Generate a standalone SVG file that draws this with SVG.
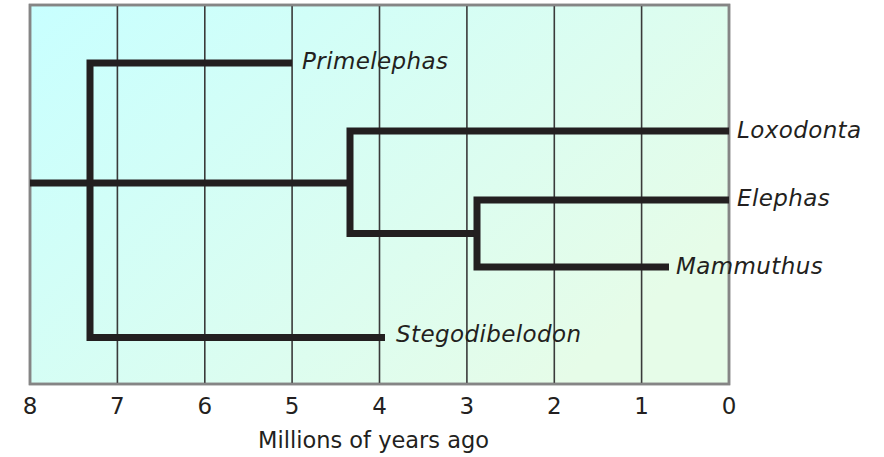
<svg xmlns="http://www.w3.org/2000/svg" width="884" height="457" viewBox="0 0 884 457">
<defs>
<linearGradient id="bg" x1="0" y1="0" x2="1" y2="0.6">
<stop offset="0" stop-color="#c8ffff"/>
<stop offset="1" stop-color="#e6fce8"/>
</linearGradient>
<style>
.grid{stroke:#3a3a3a;stroke-width:1.6;fill:none}
.frame{stroke:#858585;stroke-width:2.5;fill:url(#bg)}
.br{stroke:#231f20;stroke-width:7;fill:none;stroke-linejoin:miter;stroke-linecap:butt}
.lab{font-family:"DejaVu Sans",Verdana,sans-serif;font-style:italic;font-size:23px;letter-spacing:0.4px;fill:#231f20}
.ax{font-family:"DejaVu Sans",Verdana,sans-serif;font-size:23px;fill:#231f20;text-anchor:middle}
.ttl{font-family:"DejaVu Sans",Verdana,sans-serif;font-size:22.5px;fill:#231f20}
</style>
</defs>
<g id="chart">
<rect class="frame" x="30" y="5" width="699" height="379"/>
<g class="grid">
<line x1="117.4" y1="5" x2="117.4" y2="384"/>
<line x1="204.8" y1="5" x2="204.8" y2="384"/>
<line x1="292.1" y1="5" x2="292.1" y2="384"/>
<line x1="379.5" y1="5" x2="379.5" y2="384"/>
<line x1="466.9" y1="5" x2="466.9" y2="384"/>
<line x1="554.3" y1="5" x2="554.3" y2="384"/>
<line x1="641.6" y1="5" x2="641.6" y2="384"/>
</g>
<rect x="30" y="5" width="699" height="379" fill="none" stroke="#858585" stroke-width="2.5"/>
</g>
<g id="axis">
<text class="ax" x="30" y="414">8</text>
<text class="ax" x="117.4" y="414">7</text>
<text class="ax" x="204.8" y="414">6</text>
<text class="ax" x="292.1" y="414">5</text>
<text class="ax" x="379.5" y="414">4</text>
<text class="ax" x="466.9" y="414">3</text>
<text class="ax" x="554.3" y="414">2</text>
<text class="ax" x="641.6" y="414">1</text>
<text class="ax" x="729" y="414">0</text>
<text class="ttl" x="258" y="448">Millions of years ago</text>
</g>
<g id="connectors">
<path class="br" d="M30 183H90"/>
<path class="br" d="M292 63H90V337.5H385"/>
<path class="br" d="M90 183H350"/>
<path class="br" d="M729 131H350V233.5H477"/>
<path class="br" d="M729 200H477V267H669"/>
</g>
<g id="primelephas"><text class="lab" x="302" y="69">Primelephas</text></g>
<g id="loxodonta"><text class="lab" x="737" y="138">Loxodonta</text></g>
<g id="elephas"><text class="lab" x="737" y="206">Elephas</text></g>
<g id="mammuthus"><text class="lab" x="676" y="274">Mammuthus</text></g>
<g id="stegodibelodon"><text class="lab" x="396" y="342">Stegodibelodon</text></g>
</svg>
